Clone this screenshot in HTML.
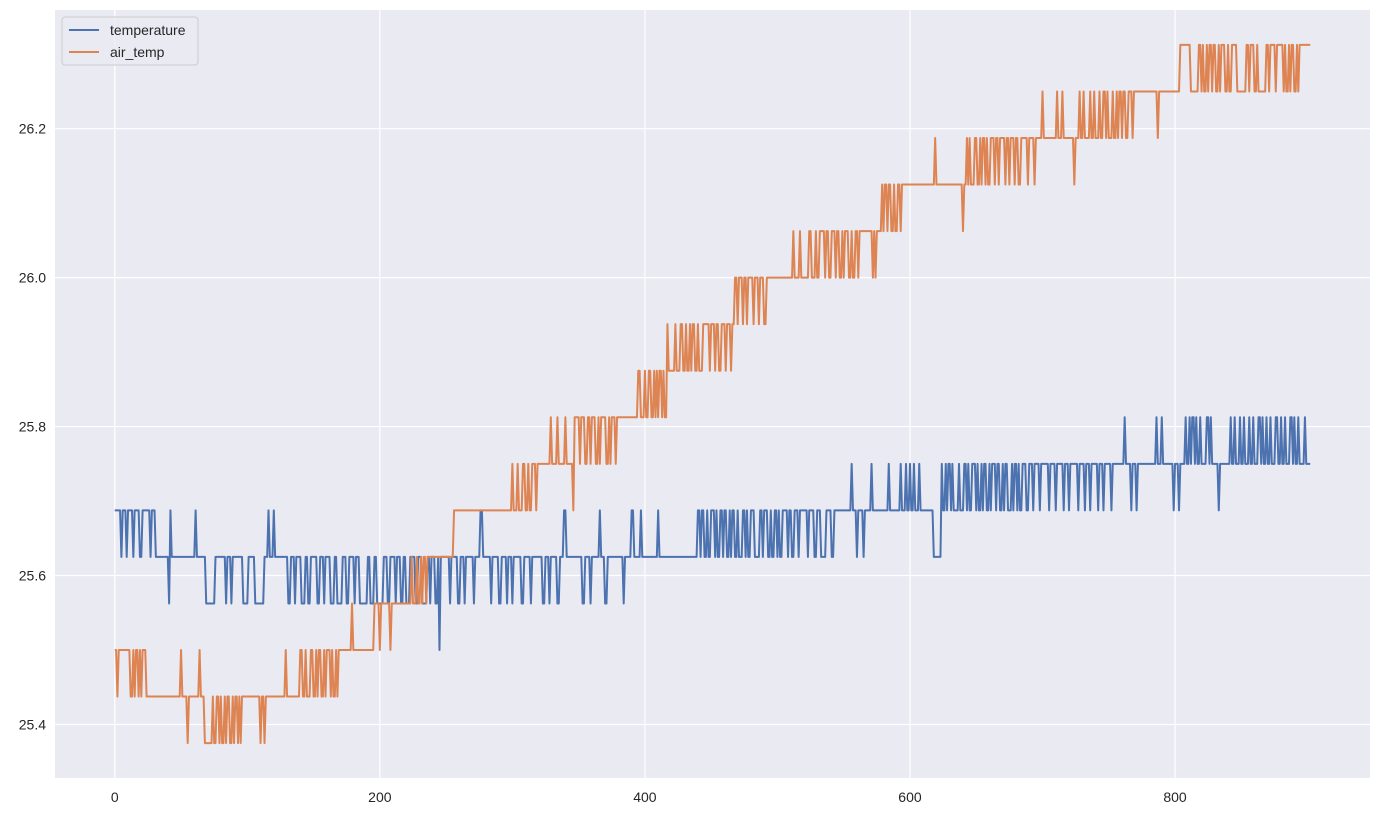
<!DOCTYPE html>
<html><head><meta charset="utf-8">
<style>
html,body{margin:0;padding:0;background:#fff;}
svg{display:block;font-family:"Liberation Sans","DejaVu Sans",sans-serif;}
</style></head>
<body>
<svg id="chart" width="1380" height="817" viewBox="0 0 1380 817" xmlns="http://www.w3.org/2000/svg">
  <rect x="55" y="10" width="1315" height="768" fill="#eaeaf2"/>
  <g id="grid"></g>
  <g id="xticks"></g>
  <g id="yticks"></g>
  <g id="series"></g>
  <g>
    <rect x="62" y="17" width="136" height="48" rx="3" fill="#eaeaf2" fill-opacity="0.8" stroke="#cccccc" stroke-width="1"/>
    <g>
      <line x1="69" y1="30" x2="99" y2="30" stroke="#4c72b0" stroke-width="2"/>
      <text x="110" y="35" font-size="14" fill="#262626">temperature</text>
    </g>
    <g>
      <line x1="69" y1="52" x2="99" y2="52" stroke="#dd8452" stroke-width="2"/>
      <text x="110" y="57" font-size="14" fill="#262626">air_temp</text>
    </g>
  </g>
</svg>
<script>
// value = 25.375 + level * 0.0625 ; runs given as [level, count]
const levelBase = 25.375;
const levelStep = 0.0625;
const temperatureRuns = [[5,5],[4,1],[5,3],[4,1],[5,4],[4,1],[5,4],[4,2],[5,6],[4,1],[5,3],[4,10],[3,1],[5,1],[4,18],[5,1],[4,7],[3,7],[4,8],[3,1],[4,3],[3,1],[4,8],[3,4],[4,5],[3,7],[4,3],[5,1],[4,3],[5,1],[4,10],
[3,2],[4,3],[3,1],[4,4],[3,3],[4,2],[3,2],[4,5],[3,2],[4,3],[3,1],[4,4],[3,3],[4,2],[3,4],[4,3],[3,2],[4,4],[3,1],[4,3],[3,6],[4,2],[3,3],[4,2],[3,5],[4,3],[3,2],[4,4],[3,1],[4,3],[3,2],[4,2],[3,3],[4,4],[3,2],[4,3],[3,4],[4,2],[3,1],[4,3],[3,2],[4,1],[2,1],[4,3],
[4,4],[3,1],[4,5],[3,2],[4,3],[3,1],[4,6],[3,1],[4,4],[5,2],[4,6],[3,1],[4,5],[3,2],[4,4],[3,1],[4,3],[3,1],[4,6],[3,2],[4,5],[3,1],[4,8],[3,2],[4,3],[3,1],[4,5],
[3,2],[4,3],[5,2],[4,12],[3,2],[4,4],[3,1],[4,6],[5,1],[4,3],[3,2],[4,12],[3,1],[4,5],[5,2],[4,5],[5,1],[4,12],[5,1],[4,19],[4,10],
[5,2],[4,1],[5,2],[4,2],[5,1],[4,2],[5,3],[4,1],[5,1],[4,2],[5,2],[4,1],[5,2],[4,2],[5,1],[4,1],[5,2],[4,2],[5,1],[4,3],[5,2],[4,1],[5,1],[4,2],[5,3],[4,4],[5,2],[4,1],[5,3],[4,2],[5,1],[4,2],[5,2],[4,1],[5,1],[4,2],[5,4],[4,1],[5,2],[4,2],[5,3],[4,1],[5,6],[4,1],[5,4],[4,2],[5,3],[4,4],[5,4],[4,2],
[5,13],[6,1],[5,3],[4,1],[5,4],[4,1],[5,5],[6,1],[5,12],[6,1],[5,8],[6,1],[5,3],[6,1],[5,2],[6,1],[5,2],[6,1],[5,3],[6,1],[5,10],
[4,6],[6,1],[5,2],[6,1],[5,1],[6,2],[5,1],[6,1],[5,4],[6,1],[5,3],[6,2],[5,1],[6,1],[5,2],[6,3],[5,1],[6,1],[5,2],[6,1],[5,1],[6,2],[5,2],[6,1],[5,1],[6,3],[5,1],[6,2],[5,2],[6,1],[5,1],[6,2],[5,3],[6,1],[5,1],[6,2],[5,1],[6,1],[5,2],[6,3],[5,2],
[6,3],[5,1],[6,4],[5,1],[6,6],[5,1],[6,4],[5,1],[6,5],[5,1],[6,3],[5,1],[6,6],[5,1],[6,4],[5,1],[6,3],[5,1],[6,5],[5,1],[6,3],[5,1],[6,5],[5,1],[6,3],
[6,6],[7,1],[6,4],[5,1],[6,3],[5,1],[6,14],[7,1],[6,3],[7,1],[6,8],[5,1],[6,3],[5,1],[6,4],[7,1],[6,2],[7,1],[6,1],[7,2],[6,1],[7,1],[6,2],[7,1],[6,4],[7,2],[6,1],[7,1],[6,5],[5,1],[6,8],[7,1],[6,2],[7,1],[6,3],[7,1],[6,2],[7,1],[6,3],[7,1],[6,2],[7,1],[6,3],[7,2],[6,1],[7,1],[6,2],[7,1],[6,2],
[7,1],[6,3],[7,2],[6,2],[7,1],[6,2],[7,1],[6,3],[7,2],[6,1],[7,1],[6,2],[7,1],[6,4],[7,1],[6,4]];
const airTempRuns = [[2,2],[1,1],[2,9],[1,2],[2,1],[1,1],[2,2],[1,1],[2,1],[1,1],[2,3],[1,26],
[2,1],[1,4],[0,1],[1,8],[2,1],[1,3],
[0,6],[1,1],[0,2],[1,2],[0,1],[1,1],[0,2],[1,1],[0,1],[1,2],[0,2],[1,1],[0,1],[1,2],[0,1],[1,1],[0,1],
[1,14],[0,1],[1,2],[0,1],[1,15],[2,1],[1,10],
[2,2],[1,2],[2,1],[1,3],[2,2],[1,2],[2,1],[1,1],[2,2],[1,2],[2,1],[1,1],[2,3],[1,1],[2,1],[1,2],[2,1],[1,1],
[2,10],[3,1],[2,16],
[3,4],[2,1],[3,7],[2,1],[3,15],[4,1],[3,3],[4,1],[3,2],[4,1],[3,1],[4,2],[3,1],[4,3],[4,17],[5,44],
[6,1],[5,3],[6,1],[5,3],[6,2],[5,2],[6,1],[5,2],[6,3],[5,1],[6,2],
[6,8],[7,1],[6,4],[7,1],[6,5],[7,1],[6,5],[5,1],
[7,4],[6,1],[7,3],[6,2],[7,2],[6,1],[7,3],[6,2],[7,1],[6,1],[7,4],[6,2],[7,1],[6,1],[7,3],[6,1],[7,6],
[7,10],[8,2],[7,3],[8,1],[7,2],[8,2],[7,2],[8,1],[7,1],[8,1],[7,1],[8,2],[7,1],[8,1],[7,2],
[9,1],[8,5],[9,1],[8,3],[9,2],[8,2],[9,1],[8,2],[9,1],[8,1],[9,2],[8,2],[9,1],[8,3],[9,3],
[9,2],[8,1],[9,3],[8,1],[9,2],[8,2],[9,3],[8,1],[9,3],[8,1],[9,2],
[10,2],[9,1],[10,3],[9,1],[10,2],[9,1],[10,4],[9,1],[10,3],[9,1],[10,3],[9,2],[10,20],
[11,1],[10,4],[11,1],[10,6],[11,2],[10,3],[11,1],[10,2],[11,4],[10,1],[11,2],[10,2],[11,3],[10,1],[11,2],[10,2],[11,1],[10,1],[11,3],[10,2],[11,1],[10,2],[11,2],[10,1],[11,10],[10,1],[11,1],
[10,1],[11,4],[12,1],[11,1],[12,2],[11,1],[12,2],[11,2],[12,1],[11,2],[12,2],[11,1],[12,25],
[13,1],[12,20],[11,1],[12,2],[13,1],[12,1],[13,1],[12,3],[13,2],[12,2],[13,1],[12,1],[13,2],[12,1],[13,1],[12,2],[13,3],[12,1],[13,2],[12,1],[13,4],[12,1],[13,2],[12,1],[13,3],[12,1],[13,2],[12,2],[13,5],
[12,1],[13,4],[12,1],[13,5],[14,1],[13,10],[14,1],[13,3],[14,1],[13,8],[12,1],[13,3],[14,1],[13,2],[14,1],[13,4],[14,1],[13,2],[14,1],[13,3],[14,1],[13,2],[14,2],[13,1],[14,1],[13,3],[14,1],[13,2],[14,1],[13,1],[14,2],[13,1],[14,2],[13,2],[14,3],[13,1],[14,4],
[14,14],[13,1],[14,16],
[15,8],[14,6],[15,2],[14,1],[15,1],[14,2],[15,1],[14,1],[15,2],[14,1],[15,2],[14,2],[15,1],[14,1],[15,3],[14,2],[15,1],[14,2],[15,4],[14,7],[15,2],[14,1],[15,3],[14,2],[15,1],[14,6],[15,2],[14,1],[15,4],[14,1],[15,5],[14,1],[15,1],[14,2],[15,1],[14,1],[15,2],[14,2],[15,1],[14,1],[15,9]];
const xTickValues = [0,200,400,600,800];
const yTickValues = [25.4,25.6,25.8,26.0,26.2];
const yTickLabels = ["25.4","25.6","25.8","26.0","26.2"];

const NS="http://www.w3.org/2000/svg";
const L=55,R=1370,T=10,B=778;
function expand(runs){const v=[];runs.forEach(r=>{for(let i=0;i<r[1];i++)v.push(levelBase+r[0]*levelStep);});return v;}
const tempVals=expand(temperatureRuns), airVals=expand(airTempRuns);
const n=Math.max(tempVals.length,airVals.length);
const allV=tempVals.concat(airVals);
const vmin=Math.min(...allV), vmax=Math.max(...allV);
const xpad=(n-1)*0.05, ypad=(vmax-vmin)*0.05;
const x0=-xpad, x1=n-1+xpad, y0=vmin-ypad, y1=vmax+ypad;
const sx=v=>L+(v-x0)/(x1-x0)*(R-L);
const sy=v=>B-(v-y0)/(y1-y0)*(B-T);
function mk(tag,attrs,parent){const e=document.createElementNS(NS,tag);for(const k in attrs)e.setAttribute(k,attrs[k]);parent.appendChild(e);return e;}
const grid=document.getElementById('grid'),xt=document.getElementById('xticks'),yt=document.getElementById('yticks');
xTickValues.forEach(v=>{const x=sx(v);
  const g=mk('line',{x1:x,x2:x,y1:T,y2:B,stroke:'#fff','stroke-width':1.2},grid);
  
  
  const t=mk('text',{x:x,y:B+24,'text-anchor':'middle','font-size':14,fill:'#262626'},xt);
  t.textContent=String(v);
  
  
});
yTickValues.forEach((v,i)=>{const y=sy(v);
  const g=mk('line',{x1:L,x2:R,y1:y,y2:y,stroke:'#fff','stroke-width':1.2},grid);
  
  
  const t=mk('text',{x:L-9,y:y+5,'text-anchor':'end','font-size':14,fill:'#262626'},yt);
  t.textContent=yTickLabels[i];
  
  
});
const ser=document.getElementById('series');
function line(vals,color,name){
  const d=vals.map((v,i)=>(i?'L':'M')+sx(i).toFixed(2)+' '+sy(v).toFixed(2)).join('');
  const p=mk('path',{d:d,fill:'none',stroke:color,'stroke-width':2,'stroke-linejoin':'round'},ser);
  
  
}
line(tempVals,'#4c72b0','temperature-line');
line(airVals,'#dd8452','air-temp-line');
</script>
</body></html>
